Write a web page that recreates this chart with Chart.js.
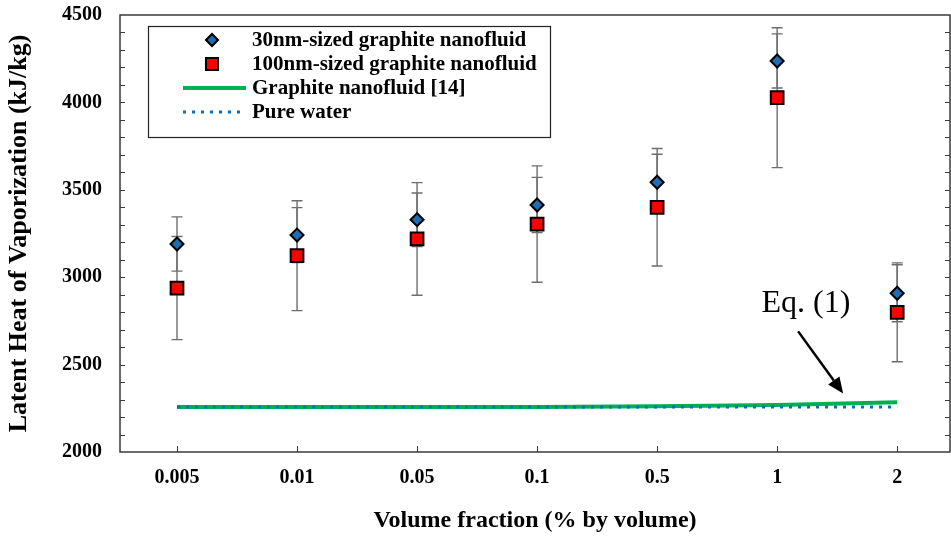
<!DOCTYPE html>
<html>
<head>
<meta charset="utf-8">
<script src="https://cdn.jsdelivr.net/npm/chart.js@4.4.1/dist/chart.umd.min.js"></script>
<style>
  html, body { margin: 0; padding: 0; background: #fff; overflow: hidden; }
  canvas { display: block; }
</style>
</head>
<body>
<canvas id="chart" width="951" height="537"></canvas>
<script>
// volume fraction categories (% by volume)
const categories = ['0.005', '0.01', '0.05', '0.1', '0.5', '1', '2'];

// latent heat, kJ/kg
const nano30 = [3190, 3241, 3329, 3413, 3543, 4237, 2908];
const nano30Err = [155, 157, 153, 158, 160, 155, 163];
const nano100 = [2938, 3123, 3219, 3304, 3400, 4027, 2799];
const nano100Err = [295, 314, 322, 333, 336, 400, 283];
const graphiteRef = [2257, 2257, 2258, 2258, 2262, 2269, 2284];
const pureWater = [2257, 2257, 2257, 2257, 2257, 2257, 2257];

const yMin = 2000, yMax = 4500, yStep = 500, yMinor = 100;

const serif = '"Liberation Serif", "Times New Roman", serif';
const toPoints = arr => arr.map((v, i) => ({ x: i, y: v }));

// error bars, drawn under the markers
const errorBars = {
    id: 'errorBars',
    beforeDatasetsDraw(chart) {
        const { ctx, scales: { x, y } } = chart;
        ctx.save();
        ctx.strokeStyle = '#6e6e6e';
        ctx.lineWidth = 1.4;
        chart.data.datasets.forEach(ds => {
            if (!ds.errors) return;
            ds.data.forEach((p, i) => {
                const px = x.getPixelForValue(p.x);
                const top = y.getPixelForValue(p.y + ds.errors[i]);
                const bot = y.getPixelForValue(p.y - ds.errors[i]);
                ctx.beginPath();
                ctx.moveTo(px, top); ctx.lineTo(px, bot);
                ctx.moveTo(px - 5.5, top); ctx.lineTo(px + 5.5, top);
                ctx.moveTo(px - 5.5, bot); ctx.lineTo(px + 5.5, bot);
                ctx.stroke();
            });
        });
        ctx.restore();
    }
};

// frame with inward ticks
const frame = {
    id: 'frame',
    afterDraw(chart) {
        const { ctx, chartArea: a, scales: { x, y } } = chart;
        ctx.save();
        ctx.strokeStyle = '#3a3a3a';
        ctx.lineWidth = 1.5;
        ctx.strokeRect(a.left, a.top, a.right - a.left, a.bottom - a.top);
        ctx.lineWidth = 1;
        ctx.beginPath();
        for (let v = yMin + yMinor; v < yMax; v += yMinor) {
            const py = Math.round(y.getPixelForValue(v)) + 0.5;
            ctx.moveTo(a.left, py); ctx.lineTo(a.left + 5, py);
            ctx.moveTo(a.right, py); ctx.lineTo(a.right - 5, py);
        }
        categories.forEach((_, i) => {
            const px = Math.round(x.getPixelForValue(i)) + 0.5;
            ctx.moveTo(px, a.bottom); ctx.lineTo(px, a.bottom - 6);
        });
        ctx.stroke();
        ctx.restore();
    }
};

// boxed legend in the upper left
const boxLegend = {
    id: 'boxLegend',
    afterDraw(chart) {
        const { ctx } = chart;
        const left = 148, top = 26, w = 402, h = 111;
        const rowY = [40, 64, 88, 112];
        ctx.save();
        ctx.fillStyle = '#fff';
        ctx.fillRect(left, top, w, h);
        ctx.strokeStyle = '#222';
        ctx.lineWidth = 1.2;
        ctx.strokeRect(left + 0.5, top + 0.5, w, h);
        ctx.font = 'bold 21px ' + serif;
        ctx.textBaseline = 'middle';
        chart.data.datasets.forEach((ds, i) => {
            const cy = rowY[i];
            if (ds.showLine) {
                ctx.save();
                ctx.strokeStyle = ds.borderColor;
                ctx.lineWidth = ds.borderWidth;
                ctx.setLineDash(ds.borderDash || []);
                ctx.beginPath();
                ctx.moveTo(183, cy); ctx.lineTo(246, cy);
                ctx.stroke();
                ctx.restore();
            } else {
                Chart.helpers.drawPoint(ctx, {
                    pointStyle: ds.pointStyle,
                    radius: ds.legendRadius,
                    borderWidth: ds.borderWidth,
                    rotation: 0
                }, 212, cy);
                ctx.fillStyle = ds.backgroundColor;
                ctx.strokeStyle = ds.borderColor;
                ctx.lineWidth = ds.borderWidth;
                ctx.fill();
                ctx.stroke();
            }
            ctx.fillStyle = '#000';
            ctx.fillText(ds.label, 252, cy + 1);
        });
        ctx.restore();
    }
};

// "Eq. (1)" label and arrow pointing at the reference line
const eqNote = {
    id: 'eqNote',
    afterDraw(chart) {
        const { ctx, scales: { x, y } } = chart;
        const tx = x.getPixelForValue(4.87), ty = y.getPixelForValue(2800);
        const x0 = x.getPixelForValue(5.175), y0 = y.getPixelForValue(2690);
        const x1 = x.getPixelForValue(5.55), y1 = y.getPixelForValue(2335);
        ctx.save();
        ctx.fillStyle = '#000';
        ctx.font = '32px ' + serif;
        ctx.textBaseline = 'alphabetic';
        ctx.fillText('Eq. (1)', tx, ty);
        const ang = Math.atan2(y1 - y0, x1 - x0);
        const head = 16, half = 7;
        const bx = x1 - head * Math.cos(ang), by = y1 - head * Math.sin(ang);
        ctx.strokeStyle = '#000';
        ctx.lineWidth = 2.5;
        ctx.beginPath();
        ctx.moveTo(x0, y0); ctx.lineTo(bx, by);
        ctx.stroke();
        ctx.beginPath();
        ctx.moveTo(x1, y1);
        ctx.lineTo(bx + half * Math.sin(ang), by - half * Math.cos(ang));
        ctx.lineTo(bx - half * Math.sin(ang), by + half * Math.cos(ang));
        ctx.closePath();
        ctx.fill();
        ctx.restore();
    }
};

const ctx = document.getElementById('chart').getContext('2d');
new Chart(ctx, {
    type: 'scatter',
    data: {
        datasets: [
            {
                label: '30nm-sized graphite nanofluid',
                data: toPoints(nano30),
                errors: nano30Err,
                pointStyle: 'rectRot',
                pointRadius: 6.5,
                legendRadius: 6,
                backgroundColor: '#1f6db3',
                borderColor: '#000',
                borderWidth: 2,
                order: 1
            },
            {
                label: '100nm-sized graphite nanofluid',
                data: toPoints(nano100),
                errors: nano100Err,
                pointStyle: 'rect',
                pointRadius: 9,
                legendRadius: 8.5,
                backgroundColor: '#ff0000',
                borderColor: '#000',
                borderWidth: 2,
                order: 2
            },
            {
                label: 'Graphite nanofluid [14]',
                data: toPoints(graphiteRef),
                showLine: true,
                pointRadius: 0,
                borderColor: '#00b050',
                borderWidth: 4,
                order: 4
            },
            {
                label: 'Pure water',
                data: toPoints(pureWater),
                showLine: true,
                pointRadius: 0,
                borderColor: '#0070c0',
                borderWidth: 3,
                borderDash: [3, 6],
                order: 3
            }
        ]
    },
    options: {
        responsive: false,
        animation: false,
        layout: { autoPadding: false, padding: { top: 15, right: 1, left: 0, bottom: 0 } },
        plugins: {
            legend: { display: false },
            tooltip: { enabled: false }
        },
        scales: {
            x: {
                type: 'linear',
                min: -0.475,
                max: 6.44,
                afterBuildTicks: s => { s.ticks = categories.map((_, i) => ({ value: i })); },
                afterFit: s => {
                    s.height = 85;
                    s.paddingLeft = 0;
                    s.paddingRight = 0;
                },
                grid: { display: false, drawTicks: false },
                border: { display: false },
                ticks: {
                    autoSkip: false,
                    maxRotation: 0,
                    padding: 14,
                    color: '#000',
                    font: { family: serif, size: 20, weight: 'bold' },
                    callback: v => categories[v]
                },
                title: {
                    display: true,
                    text: 'Volume fraction (% by volume)',
                    color: '#000',
                    font: { family: serif, size: 24, weight: 'bold', lineHeight: 1 },
                    padding: { top: 0, bottom: 4 }
                }
            },
            y: {
                min: yMin,
                max: yMax,
                afterFit: s => {
                    s.width = 120;
                    s.paddingTop = 0;
                    s.paddingBottom = 0;
                },
                grid: { display: false, drawTicks: false },
                border: { display: false },
                ticks: {
                    stepSize: yStep,
                    padding: 18,
                    color: '#000',
                    font: { family: serif, size: 20, weight: 'bold' },
                    callback: v => String(v)
                },
                title: {
                    display: true,
                    text: 'Latent Heat of Vaporization (kJ/kg)',
                    color: '#000',
                    font: { family: serif, size: 26, weight: 'bold', lineHeight: 1 },
                    padding: { top: 6, bottom: 0 }
                }
            }
        }
    },
    plugins: [errorBars, frame, boxLegend, eqNote]
});
</script>
</body>
</html>
